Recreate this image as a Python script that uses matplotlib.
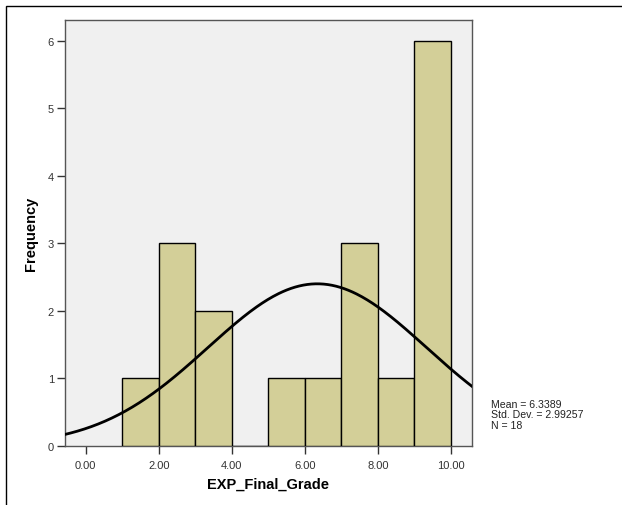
import matplotlib.pyplot as plt
from matplotlib.patches import Rectangle
import numpy as np

# histogram of EXP_Final_Grade
bin_edges = [1, 2, 3, 4, 5, 6, 7, 8, 9, 10]
counts = [1, 3, 2, 0, 1, 1, 3, 1, 6]
x_ticks = [0, 2, 4, 6, 8, 10]
x_ticklabels = ["0.00", "2.00", "4.00", "6.00", "8.00", "10.00"]
y_ticks = [0, 1, 2, 3, 4, 5, 6]

mean = 6.3389
std = 2.99257
n = 18

plt.rcParams['font.family'] = ['Liberation Sans', 'DejaVu Sans']

fig = plt.figure(figsize=(6.22, 5.06), dpi=100)
# outer frame (cut off on the right and bottom)
fig.patches.append(Rectangle((5.5 / 622, -0.1), 1.2, 1 - 7 / 506 + 0.1,
                             transform=fig.transFigure, fill=False,
                             edgecolor="black", linewidth=1.0))

ax = fig.add_axes([65 / 622, 1 - 446.7 / 506, 406.7 / 622, 425.7 / 506])
ax.set_facecolor("#f0f0f0")

widths = np.diff(bin_edges)
ax.bar(bin_edges[:-1], counts, width=widths, align="edge",
       color="#d3cf98", edgecolor="black", linewidth=1.0, zorder=3)

xs = np.linspace(-0.6, 10.6, 300)
pdf = n * 1.0 / (std * np.sqrt(2 * np.pi)) * np.exp(-0.5 * ((xs - mean) / std) ** 2)
ax.plot(xs, pdf, color="black", linewidth=2.0, zorder=4)

ax.set_xlim(-0.57, 10.57)
ax.set_ylim(0, 6.31)
ax.set_xticks(x_ticks)
ax.set_xticklabels(x_ticklabels)
ax.set_yticks(y_ticks)
ax.tick_params(direction="out", length=6, width=1, color="#333333",
               labelsize=8, labelcolor="#333333", pad=2)
ax.tick_params(axis="x", pad=4)
for s in ax.spines.values():
    s.set_color("#555555")
    s.set_linewidth(1.0)

ax.set_xlabel("EXP_Final_Grade", fontsize=10.5, fontweight="bold", labelpad=5)
ax.set_ylabel("Frequency", fontsize=10.5, fontweight="bold", labelpad=7)

stats_lines = ["Mean = %.4f" % mean, "Std. Dev. = %.5f" % std, "N = %d" % n]
for i, line in enumerate(stats_lines):
    fig.text(491 / 622, 1 - (405 + 10.5 * i) / 506, line,
             fontsize=7.6, va="center", ha="left", color="#222222")

fig.savefig("out.png", dpi=100)
